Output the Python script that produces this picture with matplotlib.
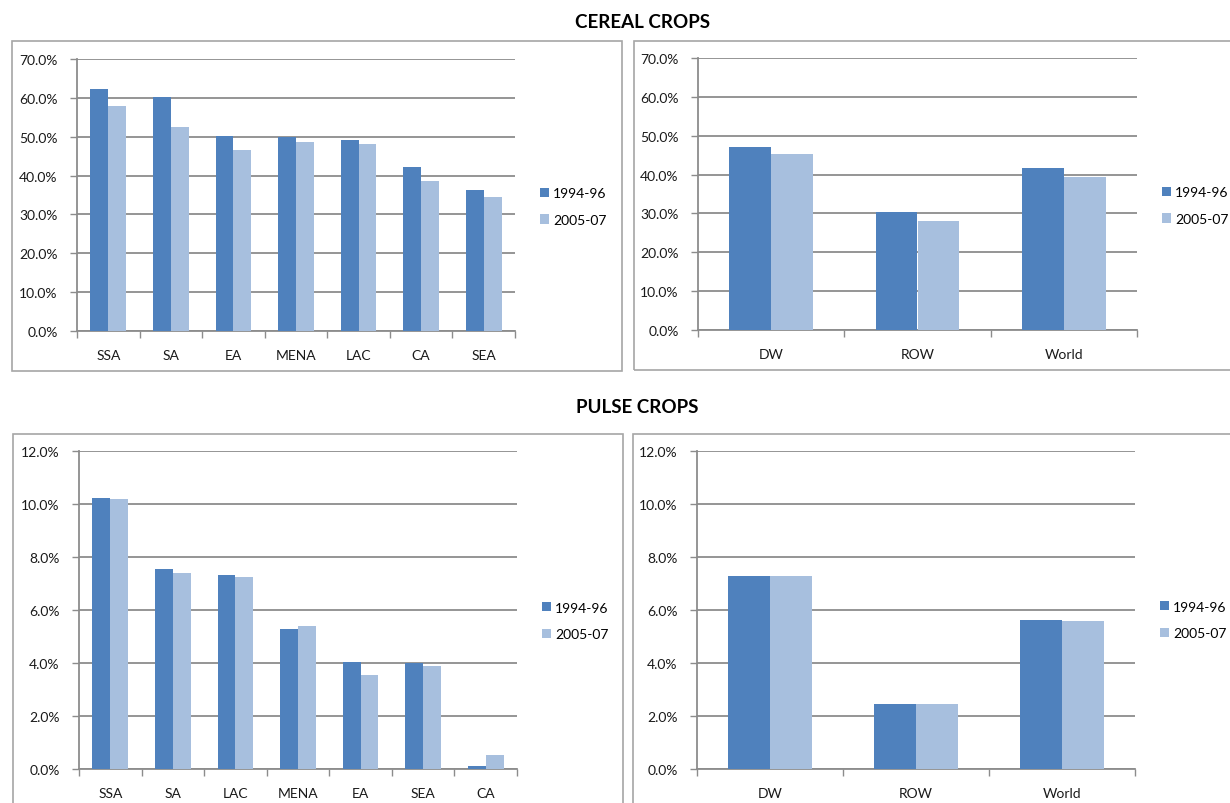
import numpy as np
import matplotlib
matplotlib.use("Agg")
import matplotlib.pyplot as plt
from matplotlib.patches import Rectangle
from matplotlib.ticker import FuncFormatter, FixedLocator


# Data (share in %)
series_names = ['1994-96', '2005-07']
cereal_regions = ['SSA', 'SA', 'EA', 'MENA', 'LAC', 'CA', 'SEA']
cereal_region_9496 = [62.3, 60.1, 50.3, 50.0, 49.2, 42.3, 36.2]
cereal_region_0507 = [58.0, 52.6, 46.6, 48.7, 48.2, 38.5, 34.4]
groups = ['DW', 'ROW', 'World']
cereal_group_9496 = [47.2, 30.3, 41.6]
cereal_group_0507 = [45.4, 28.1, 39.3]
pulse_regions = ['SSA', 'SA', 'LAC', 'MENA', 'EA', 'SEA', 'CA']
pulse_region_9496 = [10.21, 7.55, 7.31, 5.27, 4.05, 3.99, 0.10]
pulse_region_0507 = [10.20, 7.38, 7.26, 5.38, 3.55, 3.87, 0.54]
pulse_group_9496 = [7.28, 2.47, 5.62]
pulse_group_0507 = [7.27, 2.44, 5.58]

W, H = 1230, 804
c_dark = '#4F81BD'
c_light = '#A7BFDE'
grid_c = '#8C8C8C'
plt.rcParams['font.family'] = ['Lato', 'DejaVu Sans']

fig = plt.figure(figsize=(W/100, H/100), dpi=100)

def px_axes(x0, y0, x1, y1):
    # pixel box (top-left origin) -> figure axes
    return fig.add_axes([x0/W, 1-y1/H, (x1-x0)/W, (y1-y0)/H])

def px_frame(x0, y0, x1, y1):
    fig.patches.append(Rectangle((x0/W, 1-y1/H), (x1-x0)/W, (y1-y0)/H,
                                 transform=fig.transFigure, fill=False,
                                 edgecolor='#A6A6A6', lw=1.2, clip_on=False))

def bar_panel(ax, cats, v1, v2, ymax, ystep, leg_xy):
    n = len(cats)
    x = np.arange(n)
    w = 1/3.5  # excel gap width 150%
    b1 = ax.bar(x - w/2, v1, w, color=c_dark, zorder=3, label=series_names[0])
    b2 = ax.bar(x + w/2, v2, w, color=c_light, zorder=3, label=series_names[1])
    ax.set_xlim(-0.5, n-0.5)
    ax.set_ylim(0, ymax)
    ax.set_yticks(np.arange(0, ymax+ystep/2, ystep))
    ax.yaxis.set_major_formatter(FuncFormatter(lambda v, p: f"{v:.1f}%"))
    ax.set_xticks(x)
    ax.set_xticklabels(cats)
    ax.xaxis.set_minor_locator(FixedLocator(np.arange(-0.5, n, 1)))
    ax.tick_params(axis='x', which='major', length=0, pad=13, labelsize=10, labelcolor='#1a1a1a')
    ax.tick_params(axis='x', which='minor', length=5, width=1, color=grid_c, direction='out')
    ax.tick_params(axis='y', length=5, width=1, color=grid_c, pad=9, labelsize=10, labelcolor='#1a1a1a')
    ax.grid(axis='y', color=grid_c, lw=1.3, zorder=0)
    ax.set_axisbelow(True)
    for s in ['top', 'right']:
        ax.spines[s].set_visible(False)
    for s in ['left', 'bottom']:
        ax.spines[s].set_color(grid_c)
        ax.spines[s].set_linewidth(1.3)
    ax.legend(handles=[b1, b2], loc='center left', bbox_to_anchor=(leg_xy[0]/W, 1-leg_xy[1]/H),
              bbox_transform=fig.transFigure, frameon=False, fontsize=10,
              handlelength=0.65, handleheight=0.65, handletextpad=0.3,
              labelspacing=1.05, borderpad=0, borderaxespad=0)

# Frames
px_frame(12, 42, 622, 372)
px_frame(634, 42, 1240, 371)
px_frame(13, 435, 623, 812)
px_frame(633, 435, 1240, 812)

# Titles
fig.text(643/W, 1-23/H, 'CEREAL CROPS', ha='center', va='center', fontsize=13.5, fontweight='bold')
fig.text(637/W, 1-408/H, 'PULSE CROPS', ha='center', va='center', fontsize=13.5, fontweight='bold')

ax1 = px_axes(77, 60, 515, 332)
bar_panel(ax1, cereal_regions, cereal_region_9496, cereal_region_0507, 70, 10, (540, 207.5))
ax2 = px_axes(698, 59, 1137, 331)
bar_panel(ax2, groups, cereal_group_9496, cereal_group_0507, 70, 10, (1162, 206.5))
ax3 = px_axes(79, 452, 517, 770)
bar_panel(ax3, pulse_regions, pulse_region_9496, pulse_region_0507, 12, 2, (542, 622))
ax4 = px_axes(697, 452, 1135, 770)
bar_panel(ax4, groups, pulse_group_9496, pulse_group_0507, 12, 2, (1160, 621))

fig.savefig('out.png', dpi=100)
